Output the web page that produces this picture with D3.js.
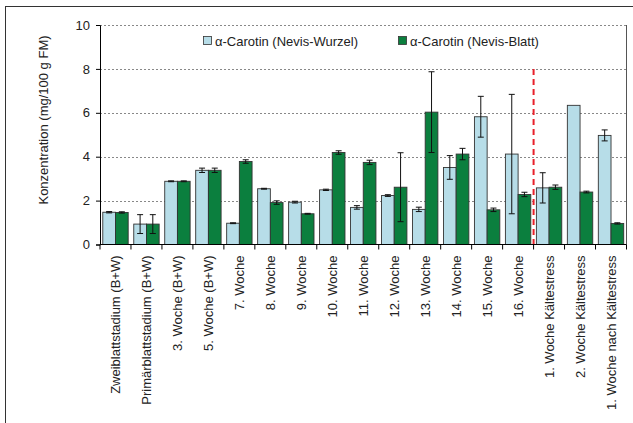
<!DOCTYPE html>
<html><head><meta charset="utf-8">
<script src="https://cdn.jsdelivr.net/npm/d3@7"></script>
<style>body{margin:0;background:#fff}svg{display:block;font-family:"Liberation Sans",Arial,sans-serif}</style>
</head><body>
<script>
const categories = ["Zweiblattstadium (B+W)","Primärblattstadium (B+W)","3. Woche (B+W)","5. Woche (B+W)","7. Woche","8. Woche","9. Woche","10. Woche","11. Woche","12. Woche","13. Woche","14. Woche","15. Woche","16. Woche","1. Woche Kältestress","2. Woche Kältestress","1. Woche nach Kältestress"];
const seriesNames = ["α-Carotin (Nevis-Wurzel)","α-Carotin (Nevis-Blatt)"];
const wurzel = [1.47,0.93,2.88,3.38,0.97,2.54,1.93,2.49,1.69,2.23,1.60,3.51,5.82,4.12,2.58,6.34,4.97];
const wurzelErr = [0.03,0.43,0.02,0.1,0.02,0.02,0.04,0.03,0.08,0.04,0.1,0.54,0.93,2.72,0.69,0,0.25];
const blatt = [1.46,0.93,2.88,3.38,3.78,1.91,1.40,4.19,3.74,2.61,6.03,4.12,1.58,2.28,2.61,2.39,0.96];
const blattErr = [0.03,0.43,0.02,0.1,0.08,0.08,0.02,0.08,0.1,1.57,1.84,0.26,0.08,0.1,0.1,0.04,0.03];
const yTicks = [0,2,4,6,8,10];
const colors = ["#b7dde8","#0b7f3e"];

const W=633,H=423;
const svg=d3.select("body").append("svg").attr("width",W).attr("height",H);
svg.append("rect").attr("x",5.5).attr("y",6.5).attr("width",640).attr("height",430).attr("fill","none").attr("stroke","#333").attr("stroke-width",1);

const m={l:100,r:626.5,t:25,b:244.5};
const x=d3.scaleBand().domain(categories).range([m.l,m.r]).padding(0);
const y=d3.scaleLinear().domain([0,10]).range([m.b,m.t]);

// gridlines
svg.append("g").selectAll("line").data(yTicks.filter(d=>d>0)).join("line")
 .attr("x1",m.l).attr("x2",m.r).attr("y1",d=>Math.round(y(d))+0.5).attr("y2",d=>Math.round(y(d))+0.5)
 .attr("stroke","#888").attr("stroke-dasharray","2,2").attr("stroke-width",1);
// right border
svg.append("line").attr("x1",m.r).attr("x2",m.r).attr("y1",m.t).attr("y2",m.b).attr("stroke","#555");

const bw=x.bandwidth()*0.41;
const off=x.bandwidth()/2-bw;
const series=[wurzel,blatt], errs=[wurzelErr,blattErr];
series.forEach((vals,si)=>{
  const g=svg.append("g");
  g.selectAll("rect").data(vals).join("rect")
   .attr("x",(d,i)=>x(categories[i])+off+si*bw)
   .attr("y",d=>y(d)).attr("width",bw).attr("height",d=>y(0)-y(d))
   .attr("fill",colors[si]).attr("stroke","#333").attr("stroke-width",0.9);
  const eg=svg.append("g").attr("stroke","#111").attr("stroke-width",1);
  vals.forEach((v,i)=>{
    const e=errs[si][i]; if(!e) return;
    const cx=x(categories[i])+off+si*bw+bw/2;
    eg.append("line").attr("x1",cx).attr("x2",cx).attr("y1",y(v+e)).attr("y2",y(v-e));
    [v+e,v-e].forEach(t=>eg.append("line").attr("x1",cx-3).attr("x2",cx+3).attr("y1",y(t)).attr("y2",y(t)));
  });
});

// red dashed line between 16. Woche and 1. Woche Kältestress
const rx=x(categories[14]);
svg.append("line").attr("x1",rx).attr("x2",rx).attr("y1",y(8)).attr("y2",y(0))
 .attr("stroke","#e8202a").attr("stroke-width",2).attr("stroke-dasharray","6,4");

// y axis
const ya=svg.append("g").attr("transform",`translate(${m.l},0)`)
 .call(d3.axisLeft(y).tickValues(yTicks).tickSize(4).tickPadding(6).tickFormat(d3.format("d")));
ya.select(".domain").attr("stroke","#000");
ya.selectAll("line").attr("stroke","#000");
ya.selectAll("text").attr("font-size",13).attr("fill","#222").style("font-family","Liberation Sans, Arial");

// x axis
const xa=svg.append("g").attr("transform",`translate(0,${m.b})`);
xa.append("line").attr("x1",m.l).attr("x2",m.r).attr("stroke","#000");
const bounds=categories.map(c=>x(c)).concat([m.r]);
xa.selectAll(".tk").data(bounds).join("line").attr("x1",d=>d).attr("x2",d=>d).attr("y1",0).attr("y2",5).attr("stroke","#000");
xa.selectAll("text").data(categories).join("text")
 .attr("transform",d=>`translate(${x(d)+x.bandwidth()/2+5},11) rotate(-90)`)
 .attr("text-anchor","end").attr("font-size",13).attr("fill","#222").text(d=>d);

// y label
svg.append("text").attr("transform","translate(48,120) rotate(-90)").attr("text-anchor","middle")
 .attr("font-size",13).attr("fill","#222").text("Konzentration (mg/100 g FM)");

// legend
const lx=[203,398];
seriesNames.forEach((n,i)=>{
  svg.append("rect").attr("x",lx[i]+0.5).attr("y",36.5).attr("width",8).attr("height",8).attr("fill",colors[i]).attr("stroke","#333").attr("stroke-width",0.8);
  svg.append("text").attr("x",lx[i]+12).attr("y",45.5).attr("font-size",13).attr("fill","#222").text(n);
});
</script>
</body></html>
